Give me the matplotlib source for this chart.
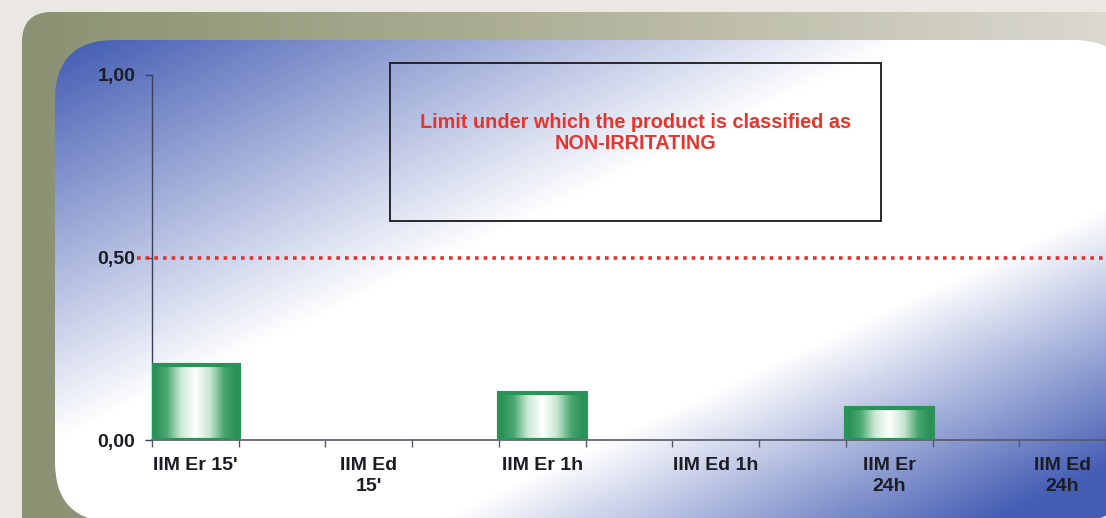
import numpy as np
import matplotlib
matplotlib.use('Agg')
import matplotlib.pyplot as plt
from matplotlib.patches import FancyBboxPatch, Rectangle
from matplotlib.colors import LinearSegmentedColormap

# chart data
categories = ["IIM Er 15'", "IIM Ed\n15'", "IIM Er 1h", "IIM Ed 1h", "IIM Er\n24h", "IIM Ed\n24h"]
values = [0.205, 0.0, 0.13, 0.0, 0.088, 0.0]
limit = 0.50
ytick_vals = [0.0, 0.5, 1.0]
ytick_labels = ['0,00', '0,50', '1,00']
note = "Limit under which the product is classified as\nNON-IRRITATING"

plt.rcParams['font.family'] = ['Liberation Sans', 'DejaVu Sans']

W, H = 1106, 518
fig = plt.figure(figsize=(W / 100, H / 100), dpi=100)
fig.patch.set_facecolor('#ebe8e4')

# background panels, in pixel coordinates (y down)
bg = fig.add_axes([0, 0, 1, 1], zorder=0)
bg.set_xlim(0, W)
bg.set_ylim(H, 0)
bg.axis('off')

xx, yy = np.meshgrid(np.arange(W) + 0.5, np.arange(H) + 0.5)

# olive frame, gradient left to right
olive_l = np.array([0x8a, 0x91, 0x72]) / 255
olive_m = np.array([0xa9, 0xab, 0x90]) / 255
olive_r = np.array([0xdb, 0xd9, 0xd0]) / 255
u = np.clip((xx - 22) / (W - 22), 0, 1)[..., None]
k = np.clip(u / 0.4, 0, 1)
olive = np.where(u < 0.4, olive_l * (1 - k) + olive_m * k,
                 olive_m + (olive_r - olive_m) * np.clip((u - 0.4) / 0.6, 0, 1))
frame = FancyBboxPatch((22, 12), 1300, 700, boxstyle='round,pad=0,rounding_size=30',
                       facecolor='none', edgecolor='none')
bg.add_patch(frame)
im1 = bg.imshow(olive, extent=[0, W, H, 0], aspect='auto', zorder=1)
im1.set_clip_path(frame)

# inner blue-white diagonal gradient panel (blue top-left and bottom-right)
blue = np.array([0x45, 0x5e, 0xb4]) / 255
t = xx / W + yy / H
s = np.where(t < 1, (1 - t - 0.1) / 0.75, (t - 1.4) / 0.5)
s = np.clip(s, 0, 1)
grad = np.ones((H, W, 3)) * (1 - s[..., None]) + blue * s[..., None]
panel = FancyBboxPatch((55, 40), 1078, 482, boxstyle='round,pad=0,rounding_size=60',
                       facecolor='none', edgecolor='none')
bg.add_patch(panel)
im2 = bg.imshow(grad, extent=[0, W, H, 0], aspect='auto', zorder=2)
im2.set_clip_path(panel)

# note box
bg.add_patch(Rectangle((390, 62.5), 491, 158.5, facecolor='none', edgecolor='#1a1a1a',
                       linewidth=1.3, zorder=3))
bg.text(636, 133, note, ha='center', va='center', color='#e8342c', fontsize=14.3,
        fontweight='bold', linespacing=1.12, zorder=4)

# main chart axes
left, right, top, bottom = 152, W, 75, 440
ax = fig.add_axes([left / W, (H - bottom) / H, (right - left) / W, (bottom - top) / H], zorder=1)
ax.patch.set_alpha(0)
x = np.arange(len(categories))
xmax = -0.25 + (right - left) / 175

green_cmap = LinearSegmentedColormap.from_list(
    'bar', ['#248c52', '#4aa870', '#cde9d6', '#ffffff', '#c8e6d2', '#48a66e', '#248c52'])
strip = green_cmap(np.linspace(0, 1, 200))[None, :, :3]
for xi, v in zip(x, values):
    if v <= 0:
        continue
    ax.imshow(strip, extent=[xi - 0.25, xi + 0.25, 0, v], aspect='auto', zorder=2)
    ax.add_patch(Rectangle((xi - 0.25, 0), 0.5, v, facecolor='none', edgecolor='#2a9458',
                           linewidth=3, zorder=3))
ax.set_xlim(-0.25, xmax)
ax.set_ylim(0, 1)

# red dotted limit line
ax.axhline(limit, xmin=-0.016, xmax=1, color='#e8302a', linewidth=2.6,
           linestyle=(0, (1, 1.4)), clip_on=False, zorder=4)

for side in ['top', 'right']:
    ax.spines[side].set_visible(False)
ax.spines['left'].set_color('#3b3f58')
ax.spines['bottom'].set_color('#55596a')
ax.spines['left'].set_linewidth(1.0)
ax.spines['bottom'].set_linewidth(1.2)

ax.set_yticks(ytick_vals)
ax.set_yticklabels(ytick_labels, fontsize=14, fontweight='bold', color='#1c1c24')
ax.tick_params(axis='y', length=5, width=1, color='#3b3f58', pad=7)

ax.set_xticks(x)
ax.set_xticklabels(categories, fontsize=14, fontweight='bold', color='#1c1c24',
                   linespacing=1.3, va='top')
ax.set_xticks(np.arange(-0.25, 5.5, 0.5), minor=True)
ax.tick_params(axis='x', which='major', length=0, pad=12)
ax.tick_params(axis='x', which='minor', length=5, width=1, color='#55596a')

fig.savefig('out.png', dpi=100)
